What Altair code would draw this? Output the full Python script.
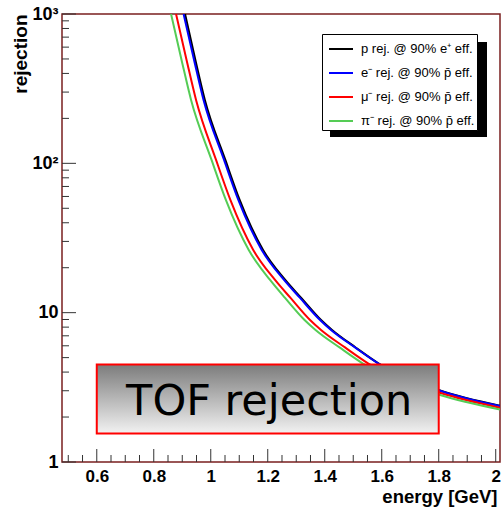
import altair as alt
import pandas as pd

# ---- data ----
series_names = [
    "p rej. @ 90% e\u207a eff.",
    "e\u207b rej. @ 90% p\u0304 eff.",
    "\u03bc\u207b rej. @ 90% p\u0304 eff.",
    "\u03c0\u207b rej. @ 90% p\u0304 eff.",
]
series_colors = ["#000000", "#0000ff", "#ff0000", "#55cc55"]

black_E = [0.9098, 0.9460, 0.9793, 1.0512, 1.1014, 1.1835, 1.2614, 1.3175, 1.3870, 1.4256, 1.5081, 1.5881, 1.8046, 2.0151]
black_R = [1000, 492.7, 265.9, 105.4, 56.9, 26.3, 16.56, 12.55, 8.93, 7.66, 5.85, 4.58, 3.01, 2.38]

blue_E = [0.9046, 0.9414, 0.9747, 1.0467, 1.0968, 1.1789, 1.2572, 1.3133, 1.3835, 1.4221, 1.5063, 1.5870, 1.8046, 2.0151]
blue_R = [1000, 492.7, 265.9, 105.4, 56.9, 26.3, 16.56, 12.55, 8.93, 7.66, 5.85, 4.58, 3.00, 2.37]

red_E = [0.8782, 0.9151, 0.9484, 1.0186, 1.0688, 1.1491, 1.2256, 1.2800, 1.3484, 1.3870, 1.4712, 1.5519, 1.8046, 2.0151]
red_R = [1000, 492.7, 265.9, 105.4, 56.9, 26.3, 16.56, 12.55, 8.93, 7.66, 5.85, 4.58, 2.91, 2.31]

green_E = [0.8607, 0.8975, 0.9309, 1.0028, 1.0530, 1.1333, 1.2081, 1.2607, 1.3291, 1.3677, 1.4519, 1.5326, 1.8046, 2.0151]
green_R = [1000, 492.7, 265.9, 105.4, 56.9, 26.3, 16.56, 12.55, 8.93, 7.66, 5.85, 4.58, 2.81, 2.25]

x_major = [0.6, 0.8, 1.0, 1.2, 1.4, 1.6, 1.8, 2.0]
x_minor = [0.5, 0.55, 0.65, 0.7, 0.75, 0.85, 0.9, 0.95, 1.05, 1.1, 1.15, 1.25,
           1.3, 1.35, 1.45, 1.5, 1.55, 1.65, 1.7, 1.75, 1.85, 1.9, 1.95]
y_major = [1, 10, 100, 1000]
y_minor = [2, 3, 4, 5, 6, 7, 8, 9, 20, 30, 40, 50, 60, 70, 80, 90,
           200, 300, 400, 500, 600, 700, 800, 900]

box_E = [0.6, 1.8]
box_R = [1.55, 4.5]
box_label = "TOF rejection"
box_label_E = 1.205
box_label_R = 2.064

x_domain = [0.478, 2.015]
y_domain = [1, 1000]

# ---- tables ----
rows = []
for name, Es, Rs in zip(series_names, [black_E, blue_E, red_E, green_E],
                        [black_R, blue_R, red_R, green_R]):
    for i, (e, r) in enumerate(zip(Es, Rs)):
        rows.append({"series": name, "E": e, "R": r, "order": i})
curves = pd.DataFrame(rows)

W, H = 438, 448
FONT = "Liberation Sans"

xscale = alt.Scale(domain=x_domain, nice=False, zero=False)
yscale = alt.Scale(type="log", domain=y_domain, nice=False)

xaxis = alt.Axis(values=x_major, format=".1~f", ticks=False, domain=False, grid=False,
                 labelFont=FONT, labelFontWeight="bold", labelFontSize=17,
                 labelColor="black", labelPadding=6, labelFlush=False,
                 labelOverlap=False, labelBound=False,
                 title="energy [GeV]", titleFont=FONT, titleFontWeight="bold",
                 titleFontSize=18.5, titleColor="black", titleAnchor="end",
                 titleAlign="right", titleX=W - 3, titleY=40,
                 titleBaseline="alphabetic")
yaxis = alt.Axis(values=y_major, ticks=False, domain=False, grid=False,
                 labelExpr="datum.value >= 999 ? '10\u00b3' : datum.value >= 99 ? '10\u00b2' : datum.value >= 9 ? '10' : '1'",
                 labelFont=FONT, labelFontWeight="bold", labelFontSize=18,
                 labelColor="black", labelPadding=4, labelFlush=False,
                 labelOverlap=False, labelBound=False,
                 title="rejection", titleFont=FONT, titleFontWeight="bold",
                 titleFontSize=19, titleColor="black", titleAngle=-90,
                 titleAlign="right", titleBaseline="middle", titleX=-42, titleY=0)


def X(field):
    return alt.X(field, type="quantitative", scale=xscale, axis=xaxis)


def Y(field):
    return alt.Y(field, type="quantitative", scale=yscale, axis=yaxis)


tick_color = "#333333"

xmaj = alt.Chart(pd.DataFrame({"v": x_major})).mark_rule(color=tick_color, strokeWidth=1).encode(
    x=X("v"), y=alt.value(H), y2=alt.value(H - 13))
xmin = alt.Chart(pd.DataFrame({"v": x_minor})).mark_rule(color=tick_color, strokeWidth=1).encode(
    x=X("v"), y=alt.value(H), y2=alt.value(H - 7))
ymaj = alt.Chart(pd.DataFrame({"v": y_major})).mark_rule(color=tick_color, strokeWidth=1).encode(
    y=Y("v"), x=alt.value(0), x2=alt.value(14))
ymin = alt.Chart(pd.DataFrame({"v": y_minor})).mark_rule(color=tick_color, strokeWidth=1).encode(
    y=Y("v"), x=alt.value(0), x2=alt.value(7))

lines = alt.Chart(curves).mark_line(strokeWidth=2, interpolate="monotone", clip=True).encode(
    x=X("E"),
    y=Y("R"),
    color=alt.Color("series:N",
                    scale=alt.Scale(domain=series_names, range=series_colors),
                    legend=alt.Legend(orient="none", legendX=260, legendY=20, title=None,
                                      fillColor="white", strokeColor="black",
                                      padding=2, symbolType="stroke", symbolSize=576,
                                      symbolStrokeWidth=2, labelFont=FONT, labelFontSize=13,
                                      labelColor="black", rowPadding=4, symbolOffset=4,
                                      labelOffset=7)),
    detail="series:N",
    order="order:Q",
)

box_df = pd.DataFrame({"E0": [box_E[0]], "E1": [box_E[1]], "R0": [box_R[0]], "R1": [box_R[1]]})
box = alt.Chart(box_df).mark_rect(
    fill=alt.Gradient(gradient="linear",
                      stops=[alt.GradientStop(color="#7c7c7c", offset=0),
                             alt.GradientStop(color="#f2f2f2", offset=1)],
                      x1=0, x2=0, y1=0, y2=1),
    stroke="#ff0000", strokeWidth=2).encode(
    x=X("E0"), x2="E1", y=Y("R1"), y2="R0")

label_df = pd.DataFrame({"E": [box_label_E], "R": [box_label_R], "t": [box_label]})
label = alt.Chart(label_df).mark_text(font="DejaVu Sans", fontSize=43, color="black",
                                      align="center", baseline="alphabetic").encode(
    x=X("E"), y=Y("R"), text="t:N")

shadow = alt.Chart(pd.DataFrame({"a": [0]})).mark_rect(color="black").encode(
    x=alt.value(268), x2=alt.value(425), y=alt.value(28), y2=alt.value(123))

chart = alt.layer(xmin, xmaj, ymin, ymaj, lines, box, label, shadow).properties(
    width=W, height=H,
    autosize=alt.AutoSizeParams(type="none"),
    padding={"left": 62, "top": 14, "right": 2, "bottom": 46},
).configure(font=FONT).configure_view(stroke="#7a1f1f", strokeWidth=1.5)

chart.save("out.html", embed_options={"renderer": "svg", "actions": False})
